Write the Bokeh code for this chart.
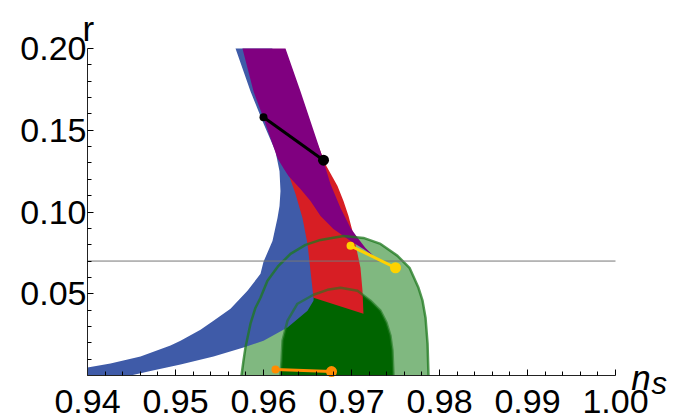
from bokeh.plotting import figure
from bokeh.models import FixedTicker, Label, Range1d, PrintfTickFormatter
from bokeh.embed import file_html
from bokeh.resources import INLINE

# ---------------- data ----------------
x_ticks = [0.94, 0.95, 0.96, 0.97, 0.98, 0.99, 1.00]
x_minor = [0.942, 0.944, 0.946, 0.948, 0.952, 0.954, 0.956, 0.958,
           0.962, 0.964, 0.966, 0.968, 0.972, 0.974, 0.976, 0.978,
           0.982, 0.984, 0.986, 0.988, 0.992, 0.994, 0.996, 0.998]
y_ticks = [0.05, 0.10, 0.15, 0.20]
y_minor = [0.01, 0.02, 0.03, 0.04, 0.06, 0.07, 0.08, 0.09,
           0.11, 0.12, 0.13, 0.14, 0.16, 0.17, 0.18, 0.19]
x_lim = [0.94, 1.00]
y_lim = [0.0, 0.20]

r_ref = 0.07

# Planck 95% contour
g95_ns = [0.9575, 0.95773, 0.95795, 0.95852, 0.95909, 0.95966, 0.96045, 0.9617,
          0.96307, 0.96477, 0.96648, 0.96909, 0.97136, 0.9733, 0.97523, 0.97659,
          0.97761, 0.97807, 0.97841, 0.97864, 0.97875]
g95_r = [0.0, 0.00915, 0.01707, 0.03171, 0.04146, 0.04756, 0.05793, 0.06707,
         0.07439, 0.07988, 0.08293, 0.08537, 0.08415, 0.08049, 0.07317, 0.06585,
         0.05366, 0.04573, 0.03537, 0.01951, 0.0]
# Planck 68% contour
g68_ns = [0.96193, 0.96205, 0.96216, 0.96273, 0.96386, 0.96568, 0.96727, 0.96875,
          0.97068, 0.97216, 0.9733, 0.97398, 0.97443, 0.97466, 0.97477]
g68_r = [0.0, 0.00915, 0.02134, 0.03354, 0.0439, 0.0494, 0.0524, 0.0537,
         0.0518, 0.04573, 0.03963, 0.03232, 0.02439, 0.01524, 0.0]

# blue band (outer edge from top, then inner edge back up)
blue_ns = [0.95682, 0.95852, 0.95989, 0.96136, 0.96182, 0.96193, 0.96182,
           0.96159, 0.96102, 0.96000, 0.95966, 0.95818, 0.95625, 0.95432, 0.95284,
           0.95057, 0.94943, 0.94602, 0.94261, 0.94, 0.94,
           0.94489, 0.94716, 0.95057, 0.95432, 0.95773, 0.96, 0.96273, 0.965, 0.96568,
           0.9660, 0.9662, 0.9650, 0.9630, 0.9610]
blue_r = [0.2000, 0.1738, 0.1555, 0.1372, 0.1250, 0.1128, 0.1037,
          0.0963, 0.0823, 0.0695, 0.0622, 0.0518, 0.0408, 0.0335, 0.0280,
          0.0213, 0.0183, 0.0116, 0.0073, 0.0049, 0.0,
          0.0, 0.0027, 0.0067, 0.0116, 0.0171, 0.0213, 0.0293, 0.0396, 0.0457,
          0.0700, 0.1000, 0.1372, 0.1700, 0.2000]

# red region
red_ns = [0.9625, 0.9605, 0.9620, 0.96273, 0.96364, 0.96443, 0.965, 0.96534, 0.96568,
          0.97136, 0.97125, 0.97102, 0.97045, 0.97011, 0.96966, 0.96909, 0.96841,
          0.96716, 0.9655, 0.9640]
red_r = [0.170, 0.155, 0.135, 0.125, 0.11098, 0.09634, 0.08049, 0.06402, 0.04756,
         0.0378, 0.05183, 0.06585, 0.08049, 0.08841, 0.09756, 0.10671, 0.11585,
         0.12805, 0.150, 0.170]

# purple band
purple_ns = [0.95761, 0.95886, 0.96, 0.9608, 0.96159, 0.96227, 0.96284,
             0.9642, 0.96534, 0.96648, 0.96795, 0.96989, 0.97136, 0.9725,
             0.97159, 0.9708, 0.96989, 0.96875, 0.96761, 0.96648, 0.96534, 0.9642,
             0.9625]
purple_r = [0.2000, 0.17378, 0.15732, 0.14512, 0.13293, 0.12683, 0.12195,
            0.11402, 0.10671, 0.09756, 0.08963, 0.08232, 0.07744, 0.07317,
            0.07805, 0.08354, 0.09024, 0.10244, 0.11707, 0.1372, 0.15549, 0.17378,
            0.2000]

# model predictions (segments)
black_ns = [0.9600, 0.96682]
black_r = [0.1579, 0.1317]
yellow_ns = [0.96989, 0.9750]
yellow_r = [0.0793, 0.0659]
orange_ns = [0.96136, 0.96773]
orange_r = [0.0037, 0.0024]

# ---------------- figure ----------------
W, H = 673, 420
PX_X = 8800.0   # pixels per unit of n_s
PX_Y = 1635.0   # pixels per unit of r
x0 = x_lim[0] - 87 / PX_X
y1 = y_lim[0] + 375 / PX_Y
p = figure(width=W, height=H,
           x_range=Range1d(x0, x0 + W / PX_X), y_range=Range1d(y1 - H / PX_Y, y1),
           output_backend="svg", toolbar_location=None,
           min_border_left=0, min_border_right=0, min_border_top=0, min_border_bottom=0)
p.xgrid.visible = False
p.ygrid.visible = False
p.outline_line_color = None
p.background_fill_color = "white"
p.border_fill_color = "white"

p.xaxis.fixed_location = y_lim[0]
p.yaxis.fixed_location = x_lim[0]
p.xaxis.bounds = tuple(x_lim)
p.yaxis.bounds = tuple(y_lim)
for ax, t, m in ((p.xaxis, x_ticks, x_minor), (p.yaxis, y_ticks, y_minor)):
    ax.ticker = FixedTicker(ticks=t, minor_ticks=m)
    ax.formatter = PrintfTickFormatter(format="%.2f")
    ax.major_tick_in = 6
    ax.major_tick_out = 0
    ax.minor_tick_in = 4
    ax.minor_tick_out = 0
    ax.axis_line_color = "#222222"
    ax.major_tick_line_color = "black"
    ax.minor_tick_line_color = "black"
    ax.major_tick_line_width = 1
    ax.minor_tick_line_width = 1
    ax.major_label_text_font = "Liberation Sans"
    ax.major_label_text_font_size = "34px"
    ax.major_label_text_color = "black"
p.xaxis.major_label_standoff = 14
p.yaxis.major_label_standoff = 1

# fills
p.patch(g95_ns, g95_r, fill_color="#80B880", line_color=None)
p.patch(g68_ns, g68_r, fill_color="#006400", line_color=None)
p.patch(blue_ns, blue_r, fill_color="#3F5BA8", line_color=None)
p.patch(red_ns, red_r, fill_color="#D71E24", line_color=None)
p.patch(purple_ns, purple_r, fill_color="#800080", line_color=None)
# contour outlines
p.line(g95_ns, g95_r, line_color="#1E781E", line_alpha=0.75, line_width=2.5)
p.line(g68_ns, g68_r, line_color="#1E781E", line_alpha=0.6, line_width=2.5)

# reference line
p.line(x_lim, [r_ref, r_ref], line_color="#777777", line_width=1)

for xs, ys, c in ((black_ns, black_r, "black"), (yellow_ns, yellow_r, "#FFD200"),
                  (orange_ns, orange_r, "#FF8C00")):
    p.line(xs, ys, line_color=c, line_width=3)
    p.scatter(xs[:1], ys[:1], size=8, fill_color=c, line_color=None)
    p.scatter(xs[1:], ys[1:], size=11, fill_color=c, line_color=None)

p.add_layout(Label(x=0.93943, y=0.2125, text="r", text_font="Liberation Sans",
                   text_color="black", text_font_size="35px",
                   text_baseline="alphabetic", text_align="left"))
p.add_layout(Label(x=1.0018, y=-0.0012, text="n", text_font="Liberation Sans",
                   text_color="black", text_font_style="italic", text_font_size="35px",
                   text_baseline="alphabetic", text_align="left"))
p.add_layout(Label(x=1.0041, y=-0.0049, text="s", text_font="Liberation Sans",
                   text_color="black", text_font_style="italic", text_font_size="31px",
                   text_baseline="alphabetic", text_align="left"))

open("out.html", "w").write(file_html(p, INLINE))
